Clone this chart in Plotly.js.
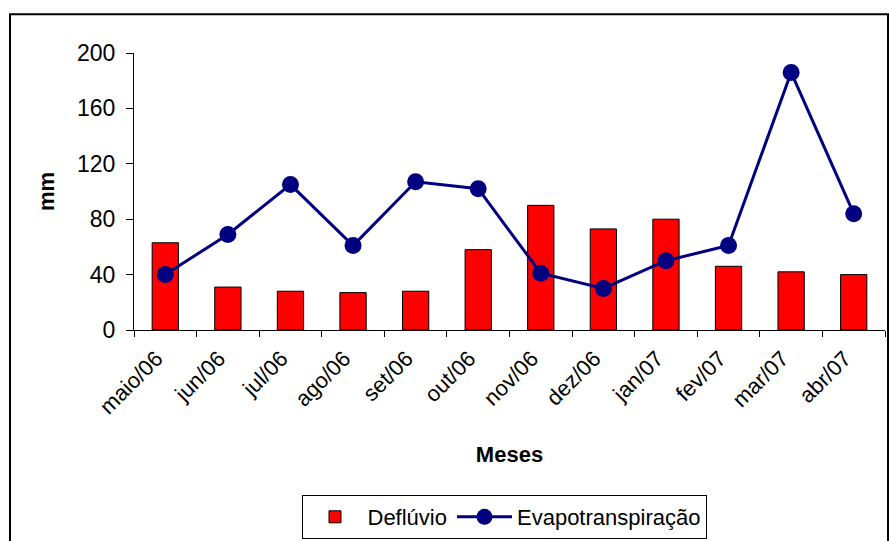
<!DOCTYPE html>
<html>
<head>
<meta charset="utf-8">
<script src="https://cdn.plot.ly/plotly-3.0.1.min.js"></script>
<style>html,body{margin:0;padding:0;background:#fff;}#chart{width:889px;height:541px;}</style>
</head>
<body>
<div id="chart"></div>
<script>
const months = ["maio/06","jun/06","jul/06","ago/06","set/06","out/06","nov/06","dez/06","jan/07","fev/07","mar/07","abr/07"];
const deflu = [63, 31, 28, 27, 28, 58, 90, 73, 80, 46, 42, 40];
const evapo = [40, 69, 105, 61, 107, 102, 41, 30, 50, 61, 186, 84];

const FONT = "Arial, 'Liberation Sans', sans-serif";

const traces = [
  {
    type: "bar", name: "Deflúvio", x: months, y: deflu,
    marker: {color: "#FF0000", line: {color: "#000000", width: 1}},
    width: 0.42
  },
  {
    type: "scatter", mode: "lines+markers", name: "Evapotranspiração", x: months, y: evapo,
    line: {color: "#000080", width: 3},
    marker: {color: "#000080", size: 17, symbol: "circle"}
  }
];

const L = 134, R = 885, T = 53, B = 331;
const W = R - L, H = B - T;
const px = v => (v - L) / W;
const py = v => (B - v) / H;

const layout = {
  width: 889, height: 541,
  margin: {l: L, r: 889 - R, t: T, b: 541 - B},
  paper_bgcolor: "#fff", plot_bgcolor: "#fff",
  font: {family: FONT, size: 23, color: "#000"},
  showlegend: true,
  xaxis: {
    type: "category",
    range: [-0.5, months.length - 0.5], autorange: false,
    tickangle: -45,
    tickson: "boundaries",
    ticks: "outside", ticklen: 6, tickcolor: "#000",
    showline: true, linecolor: "#000", linewidth: 1,
    showgrid: false, zeroline: false,
    automargin: false,
    tickfont: {family: FONT, size: 22},
    ticklabelstandoff: 6,
    ticklabelshift: -9,
    title: {text: "<b>Meses</b>", font: {family: FONT, size: 22}, standoff: 28}
  },
  yaxis: {
    range: [0, 200], autorange: false, dtick: 40, tick0: 0,
    ticks: "outside", ticklen: 7, tickcolor: "#000",
    showline: true, linecolor: "#000", linewidth: 1,
    showgrid: false, zeroline: false,
    automargin: false,
    tickfont: {family: FONT, size: 23},
    ticklabelstandoff: 6,
    title: {text: "<b>mm</b>", font: {family: FONT, size: 22}, standoff: 16}
  },
  legend: {
    orientation: "h",
    x: px(504), xanchor: "center",
    y: py(495), yanchor: "top",
    bordercolor: "#000", borderwidth: 1, bgcolor: "#fff",
    font: {family: FONT, size: 22},
    itemwidth: 55,
    traceorder: "normal"
  },
  shapes: [
    {type: "rect", xref: "paper", yref: "paper",
     x0: px(10), x1: px(888), y0: py(560), y1: py(14),
     line: {color: "#000", width: 2}, fillcolor: "rgba(0,0,0,0)", layer: "below"}
  ]
};

Plotly.newPlot("chart", traces, layout, {displayModeBar: false, staticPlot: true});
</script>
</body>
</html>
